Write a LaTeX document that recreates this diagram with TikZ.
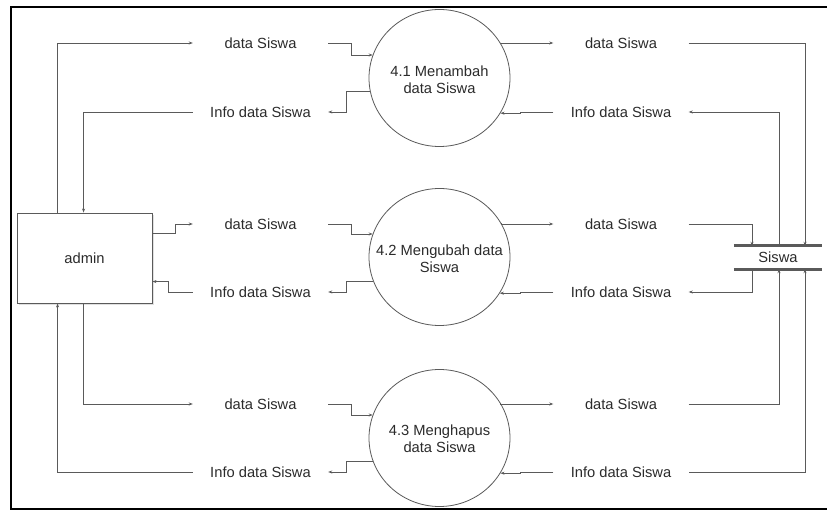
\documentclass[tikz,border=0pt]{standalone}
\usepackage{fontspec}
\setmainfont{Liberation Sans}
\usetikzlibrary{arrows.meta,shapes.geometric}
\definecolor{linegray}{HTML}{5A5A5A}
\definecolor{txtgray}{HTML}{2B2B2B}
\begin{document}
\begin{tikzpicture}[x=1pt,y=-1pt,
  every node/.style={text=txtgray, font=\fontsize{14.7}{17}\selectfont},
  flow/.style={draw=linegray, line width=0.7pt, -{Stealth[length=4pt,width=3pt]}},
  flowback/.style={draw=linegray, line width=0.7pt, {Stealth[length=4pt,width=3pt]}-},
  lbl/.style={minimum width=135pt, inner sep=0pt},
  procbox/.style={ellipse, draw=linegray, line width=0.8pt, fill=white,
    minimum width=141pt, minimum height=137pt, inner sep=0pt},
  proctext/.style={align=center, inner sep=0pt},
  entity/.style={rectangle, draw=linegray, line width=0.9pt, fill=white,
    minimum width=135pt, minimum height=90pt, inner sep=0pt},
  storebar/.style={draw=linegray, line width=3pt}]
\useasboundingbox (0,0) rectangle (827,510);

% outer frame
\draw[line width=2pt, black] (827,7) -- (11,7) -- (11,508.5) -- (827,508.5);

% external entity with a light shadow
\fill[black!12] (19,215) rectangle (154,305);
\node[entity] (admin) at (84.5,258) {admin};

% processes (fixed size circles, text set inside)
\node[procbox] (c1) at (439.5,78)  {};
\node[procbox] (c2) at (439.5,257) {};
\node[procbox] (c3) at (439.5,438) {};
\node[proctext] (t1) at ([yshift=-1.5pt]c1.center) {4.1 Menambah\\data Siswa};
\node[proctext] (t2) at ([yshift=-1.5pt]c2.center) {4.2 Mengubah data\\Siswa};
\node[proctext] (t3) at ([yshift=-0.5pt]c3.center) {4.3 Menghapus\\data Siswa};

% data store
\node[minimum width=88pt, minimum height=23pt, inner sep=0pt] (store) at (778,257.5) {Siswa};

% flow labels, left column
\node[lbl] (d1l) at (260.5,43)  {data Siswa};
\node[lbl] (i1l) at (260.5,112) {Info data Siswa};
\node[lbl] (d2l) at (260.5,224) {data Siswa};
\node[lbl] (i2l) at (260.5,292) {Info data Siswa};
\node[lbl] (d3l) at (260.5,404) {data Siswa};
\node[lbl] (i3l) at (260.5,472) {Info data Siswa};

% flow labels, right column
\node[lbl] (d1r) at (621,43)  {data Siswa};
\node[lbl] (i1r) at (621,112) {Info data Siswa};
\node[lbl] (d2r) at (621,224) {data Siswa};
\node[lbl] (i2r) at (621,292) {Info data Siswa};
\node[lbl] (d3r) at (621,404) {data Siswa};
\node[lbl] (i3r) at (621,472) {Info data Siswa};

% admin <-> labels
\draw[flow] ([xshift=41pt]admin.north west) |- (d1l.west);
\draw[flow] (i1l.west) -| ([xshift=67pt]admin.north west);
\draw[flow] ([yshift=-21pt]admin.north east) -- ++(23,0) |- (d2l.west);
\draw[flow] (i2l.west) -- ++(-24,0) |- ([yshift=-69pt]admin.north east);
\draw[flow] ([xshift=67pt]admin.south west) |- (d3l.west);
\draw[flow] (i3l.west) -| ([xshift=41pt]admin.south west);

% labels <-> processes, left side
\draw[flow] (d1l.east) -- ++(23,0) |- (c1.161);
\draw[flow] (c1.191) -| ([xshift=18pt]i1l.east) -- (i1l.east);
\draw[flow] (d2l.east) -- ++(23,0) |- (c2.161);
\draw[flow] (c2.200) -| ([xshift=18pt]i2l.east) -- (i2l.east);
\draw[flow] (d3l.east) -- ++(23,0) |- (c3.161);
\draw[flow] (c3.199) -| ([xshift=18pt]i3l.east) -- (i3l.east);

% processes <-> labels, right side
\draw[flow] (c1.30) |- (d1r.west);
\draw[flow] (i1r.west) -- ++(-33,0) |- (c1.-30);
\draw[flow] (c2.29) |- (d2r.west);
\draw[flow] (i2r.west) -- ++(-33,0) |- (c2.-31);
\draw[flow] (c3.30) |- (d3r.west);
\draw[flow] (i3r.west) -- ++(-33,0) |- (c3.-30);

% labels <-> data store
\draw[flow] (d1r.east) -| ([xshift=27pt]store.north);
\draw[flow] ([xshift=1pt]store.north) |- (i1r.east);
\draw[flow] (d2r.east) -| ([xshift=-26pt]store.north);
\draw[flow] ([xshift=-26pt]store.south) |- (i2r.east);
\draw[flow] (d3r.east) -| ([xshift=1pt]store.south);
\draw[flowback] ([xshift=27pt]store.south) |- (i3r.east);

% data store bars
\draw[storebar] (store.north west) -- (store.north east);
\draw[storebar] (store.south west) -- (store.south east);
\end{tikzpicture}
\end{document}
